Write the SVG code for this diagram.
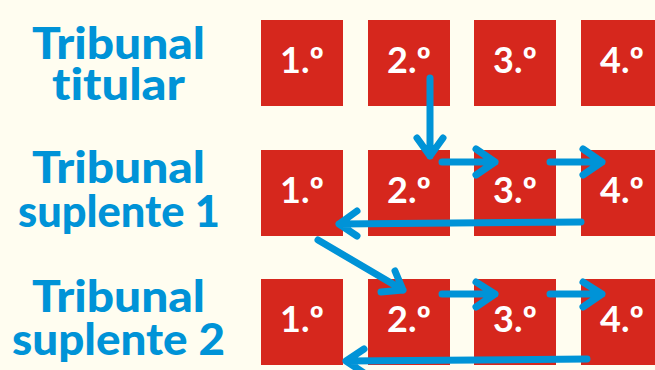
<svg xmlns="http://www.w3.org/2000/svg" width="655" height="370" viewBox="0 0 655 370">
<style>
.bg{fill:#fffdf0}
.box rect{fill:#d6271d}
.box text{fill:#ffffff;font-family:Lato,"Open Sans","Liberation Sans",sans-serif;font-weight:bold;font-size:36px;text-anchor:middle}
.lbl{fill:#0093d7;font-family:Lato,"Open Sans","Liberation Sans",sans-serif;font-weight:900;font-size:43px;text-anchor:middle;font-variant-ligatures:none}
.con path{fill:none;stroke:#0093d7;stroke-width:7;stroke-linecap:round;stroke-linejoin:round}
</style>
<rect class="bg" x="0" y="0" width="655" height="370"/>
<g id="labels">
<text class="lbl" x="118.5" y="59" textLength="173" lengthAdjust="spacingAndGlyphs">Tribunal</text>
<text class="lbl" x="118.5" y="100" textLength="133" lengthAdjust="spacingAndGlyphs">titular</text>
<text class="lbl" x="118.5" y="183" textLength="173" lengthAdjust="spacingAndGlyphs">Tribunal</text>
<text class="lbl" x="119" y="227" textLength="202" lengthAdjust="spacingAndGlyphs">suplente 1</text>
<text class="lbl" x="118.5" y="312" textLength="173" lengthAdjust="spacingAndGlyphs">Tribunal</text>
<text class="lbl" x="118.5" y="355" textLength="213" lengthAdjust="spacingAndGlyphs">suplente 2</text>
</g>
<g id="t1" class="box"><rect x="261" y="20" width="82" height="86"/><text x="302" y="73">1.º</text></g>
<g id="t2" class="box"><rect x="368" y="20" width="82" height="86"/><text x="409" y="73">2.º</text></g>
<g id="t3" class="box"><rect x="474" y="20" width="82" height="86"/><text x="515" y="73">3.º</text></g>
<g id="t4" class="box"><rect x="581" y="20" width="82" height="86"/><text x="622" y="73">4.º</text></g>
<g id="s1-1" class="box"><rect x="261" y="150" width="82" height="86"/><text x="302" y="203">1.º</text></g>
<g id="s1-2" class="box"><rect x="368" y="150" width="82" height="86"/><text x="409" y="203">2.º</text></g>
<g id="s1-3" class="box"><rect x="474" y="150" width="82" height="86"/><text x="515" y="203">3.º</text></g>
<g id="s1-4" class="box"><rect x="581" y="150" width="82" height="86"/><text x="622" y="203">4.º</text></g>
<g id="s2-1" class="box"><rect x="261" y="279" width="82" height="86"/><text x="302" y="332">1.º</text></g>
<g id="s2-2" class="box"><rect x="368" y="279" width="82" height="86"/><text x="409" y="332">2.º</text></g>
<g id="s2-3" class="box"><rect x="474" y="279" width="82" height="86"/><text x="515" y="332">3.º</text></g>
<g id="s2-4" class="box"><rect x="581" y="279" width="82" height="86"/><text x="622" y="332">4.º</text></g>
<g id="connectors" class="con">
<path d="M430 78 L430 156 M417 138 L430 156 L443 138"/>
<path d="M442 162 L495 162 M476 149 L495 162 L476 175"/>
<path d="M550 162 L602 162 M583 149 L602 162 L583 175"/>
<path d="M581 222 L339 224 M357 211 L339 224 L357 236"/>
<path d="M318 240 L403 290 M395 271 L403 290 L381 292"/>
<path d="M442 294 L495 294 M476 282 L495 294 L476 307"/>
<path d="M550 294 L602 294 M583 282 L602 294 L583 307"/>
<path d="M587 359 L346 361 M364 349 L346 361 L364 373"/>
</g>
</svg>
